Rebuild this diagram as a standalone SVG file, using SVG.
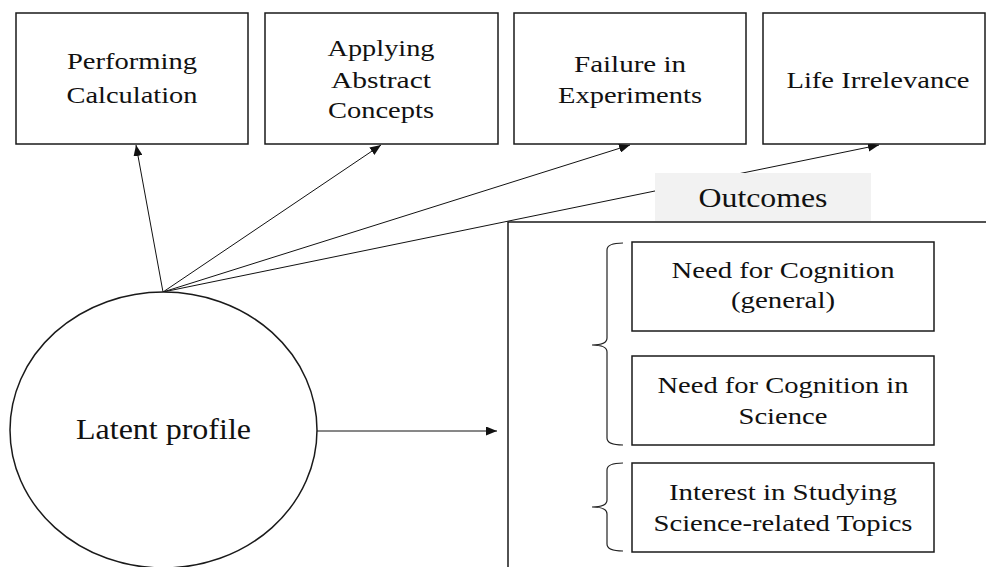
<svg xmlns="http://www.w3.org/2000/svg" width="986" height="567" viewBox="0 0 986 567">
  <style>
    .box { fill: #ffffff; stroke: #1a1a1a; stroke-width: 1.5; }
    .t { font-family: "Liberation Serif", "Times New Roman", serif; font-size: 24px; fill: #111111; text-anchor: middle; }
    .big { font-size: 29px; }
    .out { font-size: 28px; }
    .conn { stroke: #111111; stroke-width: 1; fill: none; }
    .brace { stroke: #222222; stroke-width: 1.2; fill: none; }
  </style>
  <defs>
    <marker id="arr" markerUnits="userSpaceOnUse" markerWidth="11" markerHeight="9" refX="11" refY="4.5" orient="auto">
      <path d="M0,0 L11,4.5 L0,9 z" fill="#111111"/>
    </marker>
  </defs>

  <g id="connectors">
    <line class="conn" x1="163" y1="292" x2="136" y2="145" marker-end="url(#arr)"/>
    <line class="conn" x1="163" y1="292" x2="381" y2="145" marker-end="url(#arr)"/>
    <line class="conn" x1="163" y1="292" x2="630" y2="145" marker-end="url(#arr)"/>
    <line class="conn" x1="163" y1="292" x2="879" y2="145" marker-end="url(#arr)"/>
    <line class="conn" x1="317" y1="431" x2="497" y2="431" marker-end="url(#arr)"/>
  </g>

  <g id="performing-calculation">
    <rect class="box" x="16" y="13" width="232" height="131"/>
    <text class="t" x="132" y="69" textLength="130" lengthAdjust="spacingAndGlyphs">Performing</text>
    <text class="t" x="132" y="103" textLength="131" lengthAdjust="spacingAndGlyphs">Calculation</text>
  </g>

  <g id="applying-abstract-concepts">
    <rect class="box" x="265" y="13" width="233" height="131"/>
    <text class="t" x="381" y="56" textLength="107" lengthAdjust="spacingAndGlyphs">Applying</text>
    <text class="t" x="381" y="88" textLength="100" lengthAdjust="spacingAndGlyphs">Abstract</text>
    <text class="t" x="381" y="118" textLength="106" lengthAdjust="spacingAndGlyphs">Concepts</text>
  </g>

  <g id="failure-in-experiments">
    <rect class="box" x="514" y="13" width="232" height="131"/>
    <text class="t" x="630" y="72" textLength="112" lengthAdjust="spacingAndGlyphs">Failure in</text>
    <text class="t" x="630" y="103" textLength="144" lengthAdjust="spacingAndGlyphs">Experiments</text>
  </g>

  <g id="life-irrelevance">
    <rect class="box" x="763" y="13" width="222" height="131"/>
    <text class="t" x="878" y="88" textLength="183" lengthAdjust="spacingAndGlyphs">Life Irrelevance</text>
  </g>

  <g id="latent-profile">
    <ellipse class="box" cx="163.5" cy="430" rx="153.5" ry="138"/>
    <text class="t big" x="163.5" y="438.5" textLength="175" lengthAdjust="spacingAndGlyphs">Latent profile</text>
  </g>

  <g id="outcomes">
    <rect x="655" y="173" width="216" height="48" fill="#f2f2f2"/>
    <text class="t out" x="763" y="206.5" textLength="129" lengthAdjust="spacingAndGlyphs">Outcomes</text>
    <rect class="box" x="508" y="222" width="500" height="360"/>
  </g>

  <g id="need-for-cognition-general">
    <rect class="box" x="632" y="242" width="302" height="89"/>
    <text class="t" x="783" y="278" textLength="223" lengthAdjust="spacingAndGlyphs">Need for Cognition</text>
    <text class="t" x="783" y="308" textLength="104" lengthAdjust="spacingAndGlyphs">(general)</text>
  </g>

  <g id="need-for-cognition-science">
    <rect class="box" x="632" y="356" width="302" height="89"/>
    <text class="t" x="783" y="393" textLength="251" lengthAdjust="spacingAndGlyphs">Need for Cognition in</text>
    <text class="t" x="783" y="424" textLength="89" lengthAdjust="spacingAndGlyphs">Science</text>
  </g>

  <g id="interest-studying">
    <rect class="box" x="632" y="463" width="302" height="89"/>
    <text class="t" x="783" y="500" textLength="228" lengthAdjust="spacingAndGlyphs">Interest in Studying</text>
    <text class="t" x="783" y="531" textLength="259" lengthAdjust="spacingAndGlyphs">Science-related Topics</text>
  </g>

  <g id="braces">
    <path class="brace" d="M623,243 Q607,243 607,250 L607,338 Q607,345 592,345 Q607,345 607,352 L607,438 Q607,445 623,445"/>
    <path class="brace" d="M623,463 Q607,463 607,470 L607,500 Q607,507 592,507 Q607,507 607,514 L607,544 Q607,551 623,551"/>
  </g>
</svg>
